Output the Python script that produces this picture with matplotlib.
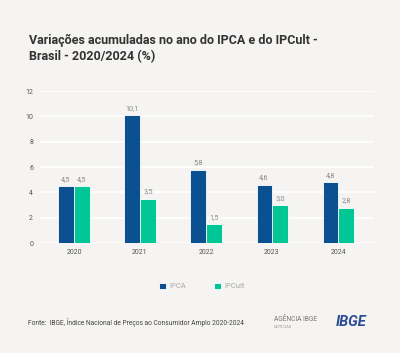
import numpy as np
import matplotlib.pyplot as plt

years = ['2020', '2021', '2022', '2023', '2024']
ipca = [4.5, 10.1, 5.8, 4.6, 4.8]
ipcult = [4.5, 3.5, 1.5, 3.0, 2.8]
ipca_labels = ['4,5', '10,1', '5,8', '4,6', '4,8']
ipcult_labels = ['4,5', '3,5', '1,5', '3,0', '2,8']

bg = '#f5f4f2'
c_ipca = '#0b5191'
c_ipcult = '#00c795'
gray = '#8a8a8a'

plt.rcParams['font.family'] = ['Roboto', 'DejaVu Sans']

fig = plt.figure(figsize=(4.0, 3.53), dpi=100, facecolor=bg)
ax = fig.add_axes([0.1, 0.3116, 0.835, 0.4306], facecolor=bg)

x = np.arange(len(years))
w = 0.23
b1 = ax.bar(x - w / 2 - 0.005, ipca, w, color=c_ipca, edgecolor='white', linewidth=0.6, zorder=3)
b2 = ax.bar(x + w / 2 + 0.005, ipcult, w, color=c_ipcult, edgecolor='white', linewidth=0.6, zorder=3)

for bars, labs in ((b1, ipca_labels), (b2, ipcult_labels)):
    for r, t in zip(bars, labs):
        ax.text(r.get_x() + r.get_width() / 2, r.get_height() + 0.25, t,
                ha='center', va='bottom', fontsize=5.2, color=gray)

ax.set_xlim(-0.515, 4.545)
ax.set_ylim(0, 12)
ax.set_yticks(range(0, 13, 2))
ax.set_xticks(x)
ax.set_xticklabels(years)
ax.yaxis.grid(True, color='white', linewidth=1.2, zorder=0)
ax.set_axisbelow(True)
for s in ax.spines.values():
    s.set_visible(False)
ax.tick_params(length=0, labelsize=5, colors='#555555')
ax.tick_params(axis='y', pad=5)
ax.tick_params(axis='x', pad=4)

fig.text(0.072, 0.905, 'Variações acumuladas no ano do IPCA e do IPCult -\nBrasil - 2020/2024 (%)',
         fontsize=9.0, fontweight='bold', color='#333333', va='top', ha='left', linespacing=1.3)

leg = fig.legend([b1, b2], ['IPCA', 'IPCult'], loc='center', bbox_to_anchor=(0.505, 0.19),
                 ncol=2, frameon=False, fontsize=5.5, handlelength=0.9, handleheight=0.9,
                 columnspacing=3.6, handletextpad=0.5, labelcolor='#aaaaaa')

fig.text(0.07, 0.085, 'Fonte:  IBGE, Índice Nacional de Preços ao Consumidor Amplo 2020-2024',
         fontsize=4.8, color='#444444', va='center')
fig.text(0.685, 0.095, 'AGÊNCIA IBGE', fontsize=4.8, color='#777777', va='center')
fig.text(0.685, 0.074, 'NOTÍCIAS', fontsize=3, color='#999999', va='center')
fig.text(0.84, 0.088, 'IBGE', fontsize=10.5, color='#2c4b94', va='center',
         fontweight='bold', fontstyle='italic')

fig.savefig('out.png', dpi=100, facecolor=bg)
